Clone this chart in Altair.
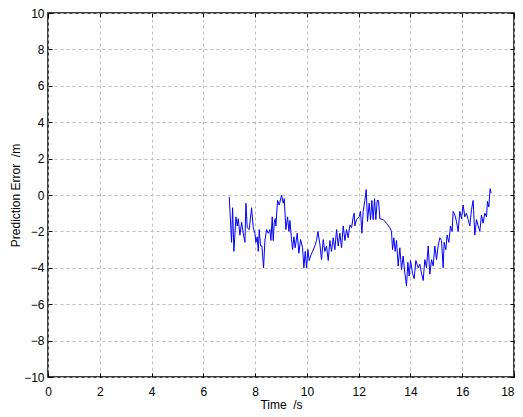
import altair as alt
import pandas as pd

time_s = [
    7.001, 7.091, 7.130, 7.181, 7.259, 7.310, 7.349, 7.413, 7.478, 7.542,
    7.606, 7.645, 7.696, 7.773, 7.864, 7.928, 7.992, 8.031, 8.082, 8.121,
    8.160, 8.211, 8.263, 8.327, 8.378, 8.443, 8.507, 8.571, 8.610, 8.661,
    8.700, 8.739, 8.777, 8.803, 8.867, 8.932, 9.022, 9.086, 9.125, 9.189,
    9.254, 9.305, 9.344, 9.408, 9.447, 9.498, 9.549, 9.627, 9.691, 9.756,
    9.833, 9.884, 9.936, 9.987, 10.039, 10.090, 10.142, 10.219, 10.309, 10.373,
    10.425, 10.502, 10.566, 10.631, 10.695, 10.759, 10.824, 10.888, 10.952, 11.017,
    11.081, 11.145, 11.210, 11.274, 11.339, 11.403, 11.467, 11.532, 11.596, 11.660,
    11.725, 11.789, 11.828, 11.853, 11.918, 12.020, 12.072, 12.124, 12.175, 12.239,
    12.291, 12.342, 12.407, 12.458, 12.510, 12.561, 12.613, 12.664, 12.716, 12.767,
    12.819, 12.947, 13.076, 13.205, 13.269, 13.308, 13.359, 13.411, 13.462, 13.526,
    13.591, 13.655, 13.719, 13.784, 13.848, 13.900, 13.951, 14.003, 14.080, 14.144,
    14.208, 14.298, 14.363, 14.427, 14.492, 14.556, 14.620, 14.685, 14.749, 14.814,
    14.878, 14.942, 15.007, 15.071, 15.135, 15.200, 15.264, 15.302, 15.367, 15.418,
    15.483, 15.547, 15.611, 15.650, 15.714, 15.779, 15.843, 15.907, 15.972, 16.036,
    16.100, 16.165, 16.229, 16.293, 16.358, 16.422, 16.486, 16.551, 16.615, 16.680,
    16.744, 16.808, 16.873, 16.937, 16.976, 17.027, 17.079, 17.117,
]

error_m = [
    -0.1, -2.6, -0.7, -3.1, -1.2, -1.7, -1.3, -2.2, -1.5, -2.1,
    -2.6, -0.45, -1.8, -1.9, -0.7, -1.8, -2.1, -2.6, -2.3, -3.1,
    -1.9, -2.8, -2.8, -4.0, -2.5, -1.9, -2.1, -1.9, -2.5, -1.2,
    -2.5, -1.5, -1.3, -1.7, -0.3, -0.55, 0.0, -0.45, -0.2, -1.9,
    -1.2, -2.0, -1.4, -2.45, -3.0, -2.3, -2.9, -2.1, -3.2, -2.45,
    -2.9, -4.0, -3.1, -4.0, -3.0, -3.6, -3.35, -3.1, -2.8, -2.5,
    -2.0, -2.7, -3.55, -2.45, -3.1, -2.8, -3.6, -2.5, -3.1, -2.35,
    -3.0, -1.9, -2.8, -2.1, -2.9, -1.7, -2.5, -1.9, -2.35, -1.65,
    -1.8, -1.2, -1.0, -1.7, -1.35, -1.2, -0.9, -2.1, -0.9, -0.3,
    0.3, -1.45, -0.45, -1.35, -0.3, -1.35, -0.2, -1.35, -0.3, -0.3,
    -1.3, -1.35, -1.55, -1.8, -2.0, -3.0, -2.35, -3.1, -2.5, -3.9,
    -2.9, -4.1, -3.35, -4.3, -5.0, -3.7, -4.45, -3.6, -4.3, -4.6,
    -3.6, -4.0, -3.8, -4.3, -4.7, -3.55, -4.0, -2.8, -4.35, -3.55,
    -3.9, -2.8, -3.55, -2.8, -2.35, -2.5, -4.0, -2.6, -3.0, -2.2,
    -2.6, -1.7, -2.0, -0.9, -1.1, -1.45, -2.0, -0.9, -1.3, -0.55,
    -1.2, -1.0, -1.35, -1.7, -0.8, -0.3, -2.2, -1.35, -1.7, -2.0,
    -1.1, -1.55, -1.0, -1.2, -0.35, -0.65, 0.35, 0.1,
]

x_ticks = [0, 2, 4, 6, 8, 10, 12, 14, 16, 18]
y_ticks = [-10, -8, -6, -4, -2, 0, 2, 4, 6, 8, 10]

df = pd.DataFrame({"t": time_s, "e": error_m})

FONT = "Liberation Sans"
xscale = alt.Scale(domain=[0, 18], nice=False, zero=False)
yscale = alt.Scale(domain=[-10, 10], nice=False, zero=False)

base = alt.Chart(df)

main = base.mark_line(color="#0000ff", strokeWidth=1, clip=True).encode(
    x=alt.X("t:Q", scale=xscale,
            axis=alt.Axis(values=x_ticks, title="Time\u00a0 /s", orient="bottom",
                          grid=True, gridColor="#bdbdbd", gridDash=[3, 3], gridWidth=1,
                          ticks=False, domain=False, labelPadding=9,
                          labelAlign=alt.expr("datum.value == 18 ? 'right' : 'center'"),
                          labelFont=FONT, labelFontSize=12, labelColor="black",
                          titleFont=FONT, titleFontSize=12, titleFontWeight="normal",
                          titleColor="black", titlePadding=2)),
    y=alt.Y("e:Q", scale=yscale,
            axis=alt.Axis(values=y_ticks, title="Prediction Error\u00a0 /m", orient="left",
                          grid=True, gridColor="#bdbdbd", gridDash=[3, 3], gridWidth=1,
                          ticks=False, domain=False, labelPadding=4,
                          labelFont=FONT, labelFontSize=12, labelColor="black",
                          titleFont=FONT, titleFontSize=12, titleFontWeight="normal",
                          titleColor="black", titleX=-33, titleY=182,
                          titleAlign="center", titleBaseline="middle", titleAngle=270)),
)

ticks1 = base.mark_line(opacity=0).encode(
    x=alt.X("t:Q", scale=xscale, axis=alt.Axis(values=x_ticks, orient="bottom", offset=-4,
            tickSize=4, tickColor="black", labels=False, title=None, domain=False, grid=False)),
    y=alt.Y("e:Q", scale=yscale, axis=alt.Axis(values=y_ticks, orient="left", offset=-4,
            tickSize=4, tickColor="black", labels=False, title=None, domain=False, grid=False)),
)
ticks2 = base.mark_line(opacity=0).encode(
    x=alt.X("t:Q", scale=xscale, axis=alt.Axis(values=x_ticks, orient="top", offset=-4,
            tickSize=4, tickColor="black", labels=False, title=None, domain=False, grid=False)),
    y=alt.Y("e:Q", scale=yscale, axis=alt.Axis(values=y_ticks, orient="right", offset=-4,
            tickSize=4, tickColor="black", labels=False, title=None, domain=False, grid=False)),
)

chart = alt.layer(main, ticks1, ticks2).resolve_axis(
    x="independent", y="independent"
).properties(
    width=466, height=364,
    autosize=alt.AutoSizeParams(type="none"),
    padding={"left": 40, "top": 5, "right": 1, "bottom": 38},
    background="white",
).configure_view(stroke="black", strokeWidth=1.5)

chart.save("out.html", embed_options={"renderer": "svg", "actions": False})
